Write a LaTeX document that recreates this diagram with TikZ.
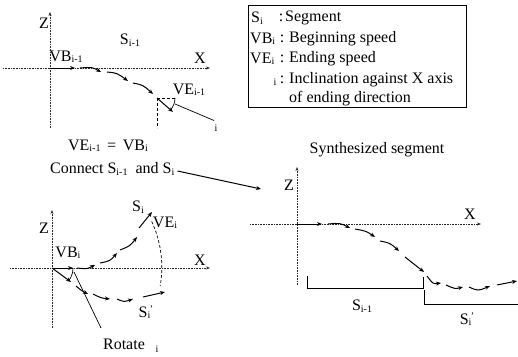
\documentclass[tikz,border=0pt]{standalone}
\usepackage{fontspec}
\setmainfont{Liberation Serif}
\usetikzlibrary{arrows.meta}
\newcommand{\sbs}[1]{\raisebox{-1.5pt}{\fontsize{10}{10}\selectfont #1}}
\newcommand{\spr}{S\sbs{i}\kern-0.5pt\raisebox{5pt}{\fontsize{10}{10}\selectfont '}}
\begin{document}
\begin{tikzpicture}[x=1pt,y=-1pt,
  txt/.style={font=\fontsize{16}{18}\selectfont, inner sep=0pt},
  small/.style={font=\fontsize{10}{10}\selectfont, inner sep=0pt},
  axis/.style={line width=0.9pt, black!85, dash pattern=on 0.9pt off 0.7pt, -{Stealth[length=4pt,width=3pt]}},
  seg/.style={line width=1pt, -{Stealth[length=5pt,width=4pt]}},
  guide/.style={line width=0.7pt, dash pattern=on 3pt off 2pt},
  thin/.style={line width=0.7pt}]
\useasboundingbox (0,0) rectangle (518,356);

% ---------- top-left diagram ----------
\coordinate (O1) at (50,68);
\draw[axis] (3,68) -- (210,68);
\draw[axis] (50,128) -- (50,12);
\node[txt] (z1) at (44,23) {Z};
\node[txt] (x1) at (200,58) {X};
\node[txt] (s1) at (130,40) {S\sbs{i-1}};
\node[txt] (vb1) at (66,57) {VB\sbs{i-1}};
\node[txt] (ve1) at (189,90) {VE\sbs{i-1}};
\draw[seg] (O1) -- (75,68);
\draw[seg] (80,68) .. controls (92,67) .. (101,72);
\draw[seg] (107,72) .. controls (117,73) .. (128,81);
\draw[seg] (133,83) .. controls (143,85) .. (153,94);
\coordinate (C1) at (157,98);
\draw[seg] (C1) -- (173,112);
\draw[guide] (C1) -- (177,98);
\draw[guide] (C1) -- (157,128);
\draw[thin] (175,98) arc[start angle=0, end angle=42, radius=18];
\node[small] (th1) at (216,128) {i};
\draw[thin] (th1.north) ++(-2,-4) -- (175,104);

% ---------- legend ----------
\node[draw, thin, minimum width=218pt, minimum height=102pt, inner sep=0pt, anchor=north west] (leg) at (248,5) {};
\node[txt, anchor=west] (l1) at (251,18) {S\sbs{i}};
\node[txt, anchor=west] (l2) at (250,39) {VB\sbs{i}};
\node[txt, anchor=west] (l3) at (250,59) {VE\sbs{i}};
\node[small] (l4) at (275,82) {i};
\node[txt] (c1) at (281,18) {:};
\node[txt] (c2) at (282,39) {:};
\node[txt] (c3) at (282,59) {:};
\node[txt] (c4) at (282,80) {:};
\node[txt, anchor=west] (t1) at (285,18) {Segment};
\node[txt, anchor=west] (t2) at (289,39) {Beginning speed};
\node[txt, anchor=west] (t3) at (289,59) {Ending speed};
\node[txt, anchor=west] (t4) at (289,80) {Inclination against X axis};
\node[txt, anchor=west] (t5) at (289,99) {of ending direction};

% ---------- middle texts ----------
\node[txt] (eq) at (108,146) {VE\sbs{i-1} \,=\, VB\sbs{i}};
\node[txt, anchor=west] (conn) at (50,169) {Connect S\sbs{i-1}~ and S\sbs{i}};
\coordinate (ce) at (261,189);
\draw[seg] (conn.east) ++(3,2) -- (ce);
\node[txt] (syn) at (377,150) {Synthesized segment};

% ---------- right diagram ----------
\coordinate (O3) at (297,224);
\draw[axis] (250,224) -- (481,224);
\draw[axis] (297,285) -- (297,167);
\node[txt] (z3) at (289,185) {Z};
\node[txt] (x3) at (470,214) {X};
\draw[seg] (O3) -- (322,224);
\draw[seg] (328,224) .. controls (340,223) .. (350,228);
\draw[seg] (355,229) .. controls (366,231) .. (375,237);
\draw[seg] (380,241) .. controls (390,243) .. (399,251);
\draw[seg] (405,257) -- (424,272);
\draw[seg] (427,276) .. controls (433,284) .. (441,283);
\draw[seg] (446,285) .. controls (455,289) .. (463,287);
\draw[seg] (469,287) .. controls (478,291) .. (490,286);
\draw[seg] (497,285) -- (517,281);
\draw[thin] (307,276) -- (307,288) -- (423,288) -- (423,277);
\draw[thin] (424,290) -- (424,304) -- (519,304);
\node[txt] (b1) at (362,306) {S\sbs{i-1}};
\node[txt] (b2) at (467,319) {\spr};

% ---------- bottom-left diagram ----------
\coordinate (O2) at (52,268);
\draw[axis] (10,268) -- (210,268);
\draw[axis] (52,328) -- (52,210);
\node[txt] (z2) at (44,228) {Z};
\node[txt] (x2) at (200,260) {X};
\node[txt] (vb2) at (68,253) {VB\sbs{i}};
\node[txt] (s2) at (138,207) {S\sbs{i}};
\node[txt] (ve2) at (165,223) {VE\sbs{i}};
\node[txt] (s2p) at (146,312) {\spr};
\draw[seg] (O2) -- (73,268);
\draw[seg] (77,268) .. controls (87,269) .. (95,265);
\draw[seg] (100,263) .. controls (110,261) .. (117,253);
\draw[seg] (120,250) .. controls (130,246) .. (137,237);
\draw[seg] (139,228) -- (152,212);
\draw[guide] (O2) ++(-25:110) arc[start angle=-25, end angle=10, radius=108];
\draw[seg] (O2) -- (71,282);
\draw[seg] (76,286) .. controls (82,291) .. (88,294);
\draw[seg] (93,294) .. controls (101,298) .. (110,299);
\draw[seg] (117,299) .. controls (124,302) .. (133,299);
\draw[seg] (143,297) -- (165,292);
\draw[thin] (73,268) arc[start angle=0, end angle=36, radius=21];
\node[txt] (rot) at (124,344) {Rotate};
\node[small] (th2) at (157,349) {i};
\draw[thin] (101,328) -- (74,272);
\end{tikzpicture}
\end{document}
